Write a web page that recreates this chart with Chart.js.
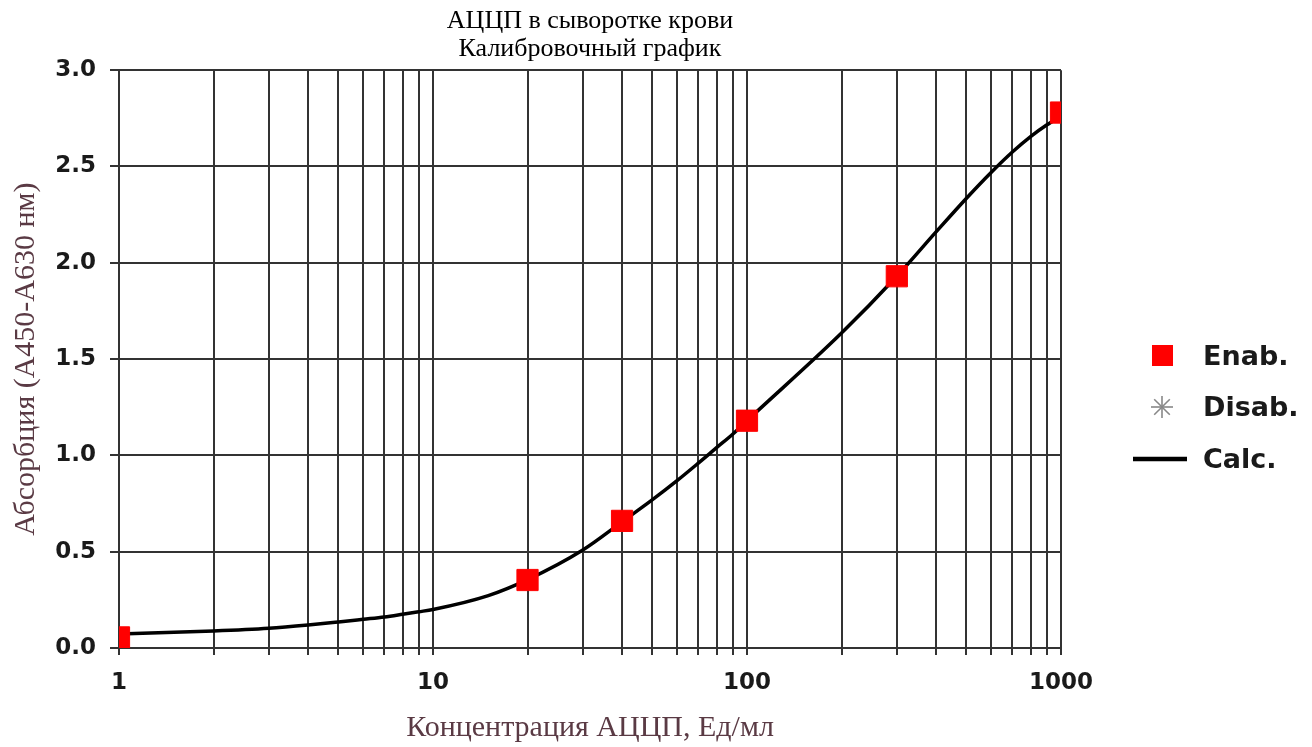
<!DOCTYPE html>
<html lang="ru">
<head>
<meta charset="UTF-8">
<script src="https://cdn.jsdelivr.net/npm/chart.js"></script>
<title>АЦЦП калибровочный график</title>
<style>
  body { margin: 0; background: #fff; }
  #wrap { position: relative; width: 1312px; height: 747px; }
  #legend { position: absolute; left: 1130px; top: 330px; font: bold 27px "DejaVu Sans", sans-serif; color: #1a1a1a; }
  .item { position: absolute; left: 0; width: 180px; height: 40px; }
  .sym { position: absolute; left: 0; top: 0; width: 66px; height: 40px; }
  .txt { position: absolute; left: 73px; top: 0; line-height: 40px; }
</style>
</head>
<body>
<div id="wrap">
  <canvas id="myChart" width="1312" height="747"></canvas>
  <div id="legend"></div>
</div>
<script>
// калибраторы (Enab.)
var enabX = [1, 20, 40, 100, 300, 1000];
var enabY = [0.055, 0.353, 0.66, 1.18, 1.93, 2.78];
// отключённые точки (Disab.) - нет
var disabX = [];
var disabY = [];
// расчётная кривая (Calc.)
var calcX = [1, 2, 3, 4, 5, 6, 7, 8, 9, 10, 15, 20, 30, 40, 50, 60, 70, 80, 90, 100, 200, 300, 400, 500, 600, 700, 800, 900, 1000];
var calcY = [0.073, 0.088, 0.102, 0.119, 0.135, 0.149, 0.161, 0.175, 0.188, 0.2, 0.272, 0.355, 0.509, 0.655, 0.77, 0.87, 0.96, 1.04, 1.11, 1.18, 1.635, 1.93, 2.16, 2.335, 2.47, 2.575, 2.655, 2.715, 2.76];
// деления оси X (логарифмическая сетка)
var xTicks = [1, 2, 3, 4, 5, 6, 7, 8, 9, 10, 20, 30, 40, 50, 60, 70, 80, 90, 100, 200, 300, 400, 500, 600, 700, 800, 900, 1000];
var xLabels = [1, 10, 100, 1000];

function pts(xs, ys) {
    return xs.map(function (x, i) { return { x: x, y: ys[i] } })
}

var gridColor = '#333333'
var titleColor = '#5a3a44'

var ctx = document.getElementById('myChart');
var myChart = new Chart(ctx, {
    type: 'scatter',
    data: {
        datasets: [{
            label: 'Enab.',
            data: pts(enabX, enabY),
            backgroundColor: '#ff0000',
            borderColor: '#ff0000',
            pointStyle: 'rect',
            pointRadius: 15,
            pointHoverRadius: 15,
            showLine: false,
            order: 1
        }, {
            label: 'Disab.',
            data: pts(disabX, disabY),
            borderColor: '#888888',
            pointStyle: 'star',
            pointRadius: 10,
            showLine: false,
            order: 2
        }, {
            label: 'Calc.',
            data: pts(calcX, calcY),
            borderColor: '#000000',
            backgroundColor: '#000000',
            borderWidth: 3.5,
            pointRadius: 0,
            showLine: true,
            cubicInterpolationMode: 'monotone',
            order: 3
        }]
    },
    options: {
        responsive: false,
        animation: false,
        layout: { padding: { left: 0, right: 251, top: 0, bottom: 0 } },
        plugins: {
            legend: { display: false },
            tooltip: { enabled: false },
            title: {
                display: true,
                fullSize: false,
                text: ['АЦЦП в сыворотке крови', 'Калибровочный график'],
                color: '#000',
                font: { family: '"Liberation Serif", serif', size: 26, weight: 'normal', lineHeight: 1.08 },
                padding: { top: 7, bottom: 7 }
            }
        },
        scales: {
            x: {
                type: 'logarithmic',
                min: 1,
                max: 1000,
                afterFit: function (s) { s.height = 99 },
                afterBuildTicks: function (s) {
                    s.ticks = xTicks.map(function (v) { return { value: v, major: xLabels.indexOf(v) >= 0 } })
                },
                grid: { color: gridColor, lineWidth: 2, tickLength: 7, tickColor: gridColor },
                border: { color: gridColor, width: 2 },
                ticks: {
                    autoSkip: false,
                    maxRotation: 0,
                    padding: 14,
                    color: '#1a1a1a',
                    font: { family: '"DejaVu Sans", sans-serif', size: 23, weight: 'bold' },
                    callback: function (v) { return xLabels.indexOf(v) >= 0 ? String(v) : '' }
                },
                title: {
                    display: true,
                    text: 'Концентрация АЦЦП, Ед/мл',
                    color: titleColor,
                    font: { family: '"Liberation Serif", serif', size: 30 },
                    padding: { top: 0, bottom: 1 }
                }
            },
            y: {
                min: 0,
                max: 3,
                afterFit: function (s) { s.width = 119 },
                grid: { color: gridColor, lineWidth: 2, tickLength: 9, tickColor: gridColor },
                border: { color: gridColor, width: 2 },
                ticks: {
                    stepSize: 0.5,
                    padding: 14,
                    color: '#1a1a1a',
                    font: { family: '"DejaVu Sans", sans-serif', size: 23, weight: 'bold' },
                    callback: function (v) { return v.toFixed(1) }
                },
                title: {
                    display: true,
                    text: 'Абсорбция (A450-A630 нм)',
                    color: titleColor,
                    font: { family: '"Liberation Serif", serif', size: 30 },
                    padding: { top: 8, bottom: 0 }
                }
            }
        }
    }
});

// легенда справа
var legend = document.getElementById('legend')
var rowTop = [6, 57, 109]
myChart.data.datasets.forEach(function (ds, i) {
    var sym = ''
    if (ds.pointStyle === 'rect') {
        sym = '<svg width="66" height="40"><rect x="22" y="9" width="21" height="21" fill="' + ds.backgroundColor + '"/></svg>'
    } else if (ds.pointStyle === 'star') {
        sym = '<svg width="66" height="40"><g stroke="' + ds.borderColor + '" stroke-width="1.6">' +
            '<line x1="32" y1="9" x2="32" y2="31"/><line x1="21" y1="20" x2="43" y2="20"/>' +
            '<line x1="24.2" y1="12.2" x2="39.8" y2="27.8"/><line x1="24.2" y1="27.8" x2="39.8" y2="12.2"/></g></svg>'
    } else {
        sym = '<svg width="66" height="40"><line x1="3" y1="20" x2="57" y2="20" stroke="' + ds.borderColor + '" stroke-width="4.5"/></svg>'
    }
    var d = document.createElement('div')
    d.className = 'item'
    d.style.top = rowTop[i] + 'px'
    d.innerHTML = '<div class="sym">' + sym + '</div><div class="txt">' + ds.label + '</div>'
    legend.appendChild(d)
})
</script>
</body>
</html>
